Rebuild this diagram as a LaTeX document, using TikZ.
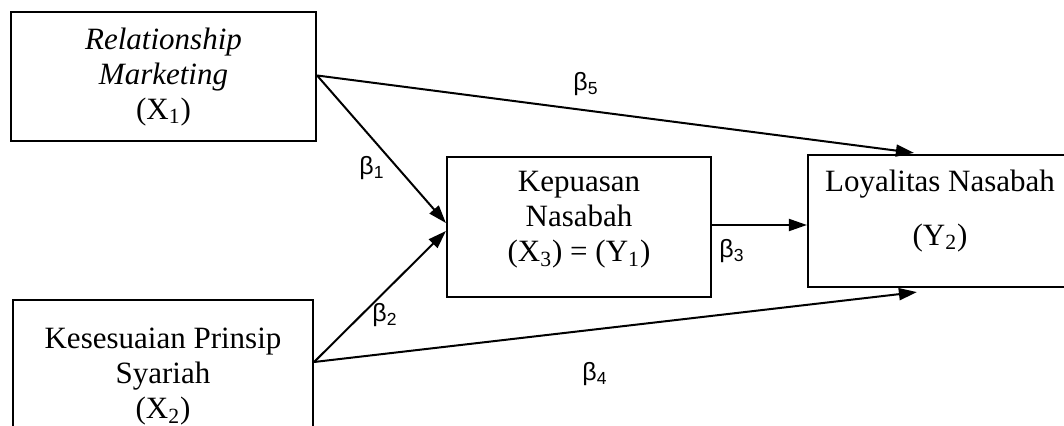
\documentclass[tikz,border=0pt]{standalone}
\usepackage{fontspec}
\setmainfont{Liberation Serif}
\setsansfont{Liberation Sans}
\usetikzlibrary{arrows.meta}
\begin{document}
\begin{tikzpicture}[x=0.5pt,y=-0.5pt,
  box/.style={draw,line width=1.1pt,inner sep=0pt},
  txt/.style={align=center,font=\fontsize{15.5}{17.5}\selectfont,inner sep=0pt},
  conn/.style={line width=1pt,-{Triangle[length=9pt,width=6pt]}},
  beta/.style={font=\sffamily\fontsize{12.5}{13}\selectfont,inner sep=0pt}]
\useasboundingbox (0,0) rectangle (1064,426);
\clip (0,0) rectangle (1064,426);
\node[box,minimum width=152.5pt,minimum height=64.5pt] (X1) at (163.5,76.5) {};
\node[txt] (tX1) at (163.5,77) {\textit{Relationship}\\\textit{Marketing}\\(X\textsubscript{1})};
\node[box,minimum width=150pt,minimum height=77pt] (X2) at (163,377) {};
\node[txt] (tX2) at (163,377) {Kesesuaian Prinsip\\Syariah\\(X\textsubscript{2})};
\node[box,minimum width=132pt,minimum height=70pt] (X3) at (579,227) {};
\node[txt] (tX3) at (579,220) {Kepuasan\\Nasabah\\(X\textsubscript{3}) = (Y\textsubscript{1})};
\node[box,minimum width=132pt,minimum height=66pt] (Y2) at (940,221) {};
\node[txt,font=\fontsize{15.5}{27}\selectfont] (tY2) at (940,211) {Loyalitas Nasabah\\(Y\textsubscript{2})};
% connectors
\draw[conn] ([yshift=0.5pt]X1.east) -- ([xshift=53.5pt,yshift=0.5pt]Y2.north west);
\draw[conn] ([yshift=0.5pt]X1.east) -- ([yshift=2pt]X3.west);
\draw[conn] ([yshift=7.5pt]X2.east) -- ([yshift=-2pt]X3.west);
\draw[conn] ([yshift=7.5pt]X2.east) -- ([xshift=55pt,yshift=-2pt]Y2.south west);
\coordinate (b3s) at ([yshift=1pt]X3.east);
\draw[conn] (b3s) -- (b3s -| Y2.west);
% labels
\node[beta] (l5) at (586,84) {β\textsubscript{5}};
\node[beta] (l1) at (372,168) {β\textsubscript{1}};
\node[beta] (l2) at (385,315) {β\textsubscript{2}};
\node[beta] (l3) at (732,251) {β\textsubscript{3}};
\node[beta] (l4) at (595,374) {β\textsubscript{4}};
\end{tikzpicture}
\end{document}
